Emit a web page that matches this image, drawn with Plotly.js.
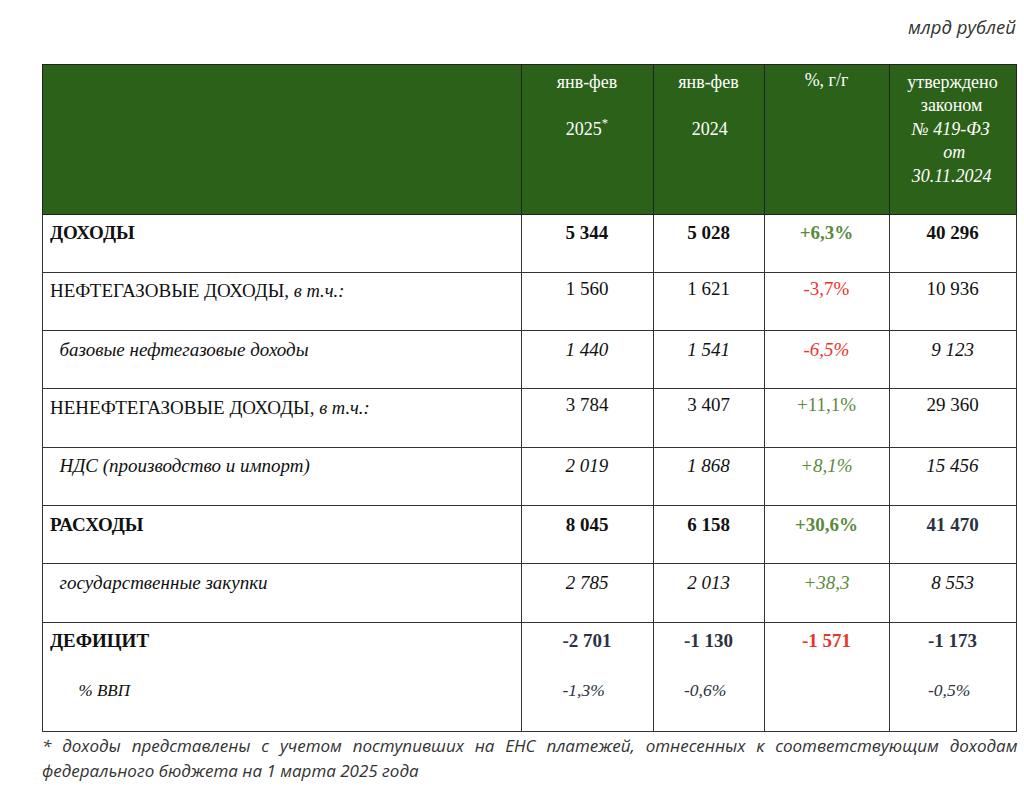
<!DOCTYPE html>
<html>
<head>
<meta charset="utf-8">
<script src="https://cdn.plot.ly/plotly-3.0.1.min.js"></script>
<style>html,body{margin:0;padding:0;background:#fff;}#chart{width:1024px;height:790px;}</style>
</head>
<body>
<div id="chart"></div>
<script>
// ---- data ----
const NB = "\u00a0";
const pad = n => NB.repeat(n);
const headers = ["",
  "янв-фев<br><br>" + pad(2) + "2025<sup>*</sup>",
  "янв-фев<br><br>" + pad(3) + "2024",
  "%, г/г",
  "утверждено<br>" + pad(3) + "законом<br>" + pad(1) + "<i>№ 419-ФЗ</i><br>" + pad(8) + "<i>от</i><br>" + pad(1) + "<i>30.11.2024</i>"];
const rowLabels = ["ДОХОДЫ", "НЕФТЕГАЗОВЫЕ ДОХОДЫ", "базовые нефтегазовые доходы",
  "НЕНЕФТЕГАЗОВЫЕ ДОХОДЫ", "НДС (производство и импорт)", "РАСХОДЫ",
  "государственные закупки", "ДЕФИЦИТ"];
const rowStyle = ["b", "n", "i", "n", "i", "b", "i", "b"];
const janFeb2025 = [5344, 1560, 1440, 3784, 2019, 8045, 2785, -2701];
const janFeb2024 = [5028, 1621, 1541, 3407, 1868, 6158, 2013, -1130];
const yoyPct = ["+6,3%", "-3,7%", "-6,5%", "+11,1%", "+8,1%", "+30,6%", "+38,3", "-1 571"];
const law419 = [40296, 10936, 9123, 29360, 15456, 41470, 8553, -1173];
const gdpShare2025 = "-1,3%", gdpShare2024 = "-0,6%", gdpShareLaw = "-0,5%";
const unitNote = "млрд рублей";
const footnote1 = "* доходы представлены с учетом поступивших на ЕНС платежей, отнесенных к соответствующим доходам";
const footnote2 = "федерального бюджета на 1 марта 2025 года";

// ---- formatting ----
const fmt = n => (n < 0 ? "-" : "") + Math.abs(n).toString().replace(/\B(?=(\d{3})+(?!\d))/g, " ");
const styl = (s, st) => st === "b" ? "<b>" + s + "</b>" : st === "i" ? "<i>" + s + "</i>" : s;
const GREEN = "#5a8a3b", RED = "#e8352b", DARK = "#2b3242";
const sz = (s, px) => "<span style='font-size:" + px + "px'>" + s + "</span>";

const col0 = rowLabels.map((l, i) => {
  if (i === 1 || i === 3) return l + ", " + sz("<i>в т.ч.:</i>", 18.5) + "<br>";
  if (rowStyle[i] === "i") return pad(2) + styl(l, "i");
  if (i === 7) return "<b>" + l + "</b><br><br>" + pad(6) + sz("<i>% ВВП</i>", 17) + "<br>" + sz(NB, 11);
  return styl(l, rowStyle[i]);
});
const numCol = (arr, extra) => arr.map((v, i) => {
  let s = styl(fmt(v), rowStyle[i]);
  if (i === 7) s += "<br><br>" + sz("<i>" + extra + "</i>", 17.5);
  return s;
});
const col1 = numCol(janFeb2025, gdpShare2025);
const col2 = numCol(janFeb2024, gdpShare2024);
const col3 = yoyPct.map((v, i) => styl(v, rowStyle[i]));
const col4 = numCol(law419, gdpShareLaw);

const black = rowLabels.map(() => "#111");
const c3colors = yoyPct.map(v => v.trim().startsWith("-") ? RED : GREEN);
const numColors = rowLabels.map((_, i) => i === 7 ? DARK : "#111");
const col4colors = rowLabels.map((_, i) => (i === 5 || i === 7) ? DARK : "#111");

const SERIF = "Liberation Serif";
const trace = {
  type: "table",
  domain: {x: [42/1024, 1016/1024], y: [0, 1 - 64/790]},
  columnwidth: [479, 132, 111, 125, 127],
  header: {
    values: headers,
    align: "center",
    height: 150,
    fill: {color: "#2c6119"},
    line: {color: "#222", width: 1},
    font: {family: SERIF, size: 18, color: "#ffffff"}
  },
  cells: {
    values: [col0, col1, col2, col3, col4],
    align: ["left", "center", "center", "center", "center"],
    height: 58.3,
    fill: {color: "#ffffff"},
    line: {color: "#333", width: 1},
    font: {family: SERIF, size: 19,
      color: [black, numColors, numColors, c3colors, col4colors]}
  }
};

const layout = {
  width: 1024, height: 790,
  margin: {l: 0, r: 0, t: 0, b: 0},
  paper_bgcolor: "#ffffff",
  showlegend: false,
  annotations: [
    {text: "<i>" + unitNote + "</i>", xref: "paper", yref: "paper", x: 1018/1024, y: 1 - 27/790,
     xanchor: "right", yanchor: "middle", showarrow: false,
     font: {family: "Open Sans", size: 18.5, color: "#333"}},
    {text: "<i><span style='word-spacing:6.4px'>" + footnote1 + "</span></i>", xref: "paper", yref: "paper",
     x: 40/1024, y: 1 - 745/790, xanchor: "left", yanchor: "middle", showarrow: false,
     font: {family: "Open Sans", size: 17, color: "#333"}},
    {text: "<i>" + footnote2 + "</i>", xref: "paper", yref: "paper",
     x: 40/1024, y: 1 - 770/790, xanchor: "left", yanchor: "middle", showarrow: false,
     font: {family: "Open Sans", size: 17, color: "#333"}}
  ]
};

Plotly.newPlot("chart", [trace], layout, {displayModeBar: false, staticPlot: true});
</script>
</body>
</html>
